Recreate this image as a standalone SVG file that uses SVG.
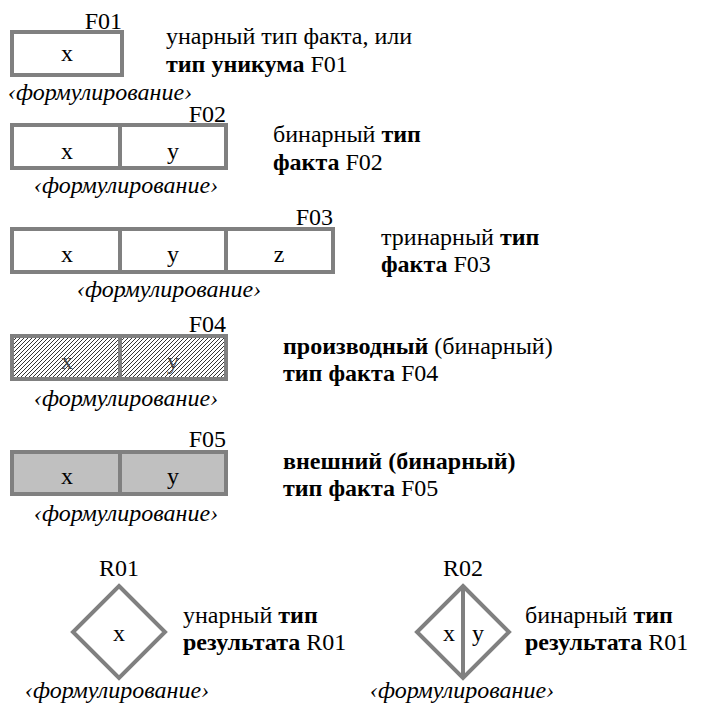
<svg xmlns="http://www.w3.org/2000/svg" width="702" height="710" viewBox="0 0 702 710">
<rect width="702" height="710" fill="#fff"/>
<g id="F01">
<rect x="12" y="32" width="110" height="43" fill="#fff" stroke="#808080" stroke-width="4"/>
<text font-family="'Liberation Serif', serif" font-size="24" text-anchor="end" x="122" y="29">F01</text>
<text font-family="'Liberation Serif', serif" font-size="24" text-anchor="middle" x="67" y="61">x</text>
<text font-family="'Liberation Serif', serif" font-size="24" font-style="italic" text-anchor="middle" x="100" y="100">‹формулирование›</text>
<text font-family="'Liberation Serif', serif" font-size="24" x="166" y="44">унарный тип факта, или</text>
<text font-family="'Liberation Serif', serif" font-size="24" x="166" y="72"><tspan font-weight="bold">тип уникума</tspan> F01</text>
</g>
<g id="F02">
<rect x="12" y="125" width="214" height="43" fill="#fff" stroke="#808080" stroke-width="4"/>
<line x1="120" y1="125" x2="120" y2="168" stroke="#808080" stroke-width="4"/>
<text font-family="'Liberation Serif', serif" font-size="24" text-anchor="end" x="226" y="122">F02</text>
<text font-family="'Liberation Serif', serif" font-size="24" text-anchor="middle" x="67" y="159">x</text>
<text font-family="'Liberation Serif', serif" font-size="24" text-anchor="middle" x="173" y="159">y</text>
<text font-family="'Liberation Serif', serif" font-size="24" font-style="italic" text-anchor="middle" x="126" y="193">‹формулирование›</text>
<text font-family="'Liberation Serif', serif" font-size="24" x="273" y="142">бинарный <tspan font-weight="bold">тип</tspan></text>
<text font-family="'Liberation Serif', serif" font-size="24" x="273" y="170"><tspan font-weight="bold">факта</tspan> F02</text>
</g>
<g id="F03">
<rect x="12" y="229" width="321" height="43" fill="#fff" stroke="#808080" stroke-width="4"/>
<line x1="120" y1="229" x2="120" y2="272" stroke="#808080" stroke-width="4"/>
<line x1="226" y1="229" x2="226" y2="272" stroke="#808080" stroke-width="4"/>
<text font-family="'Liberation Serif', serif" font-size="24" text-anchor="end" x="333" y="225">F03</text>
<text font-family="'Liberation Serif', serif" font-size="24" text-anchor="middle" x="67" y="262">x</text>
<text font-family="'Liberation Serif', serif" font-size="24" text-anchor="middle" x="173" y="262">y</text>
<text font-family="'Liberation Serif', serif" font-size="24" text-anchor="middle" x="279" y="262">z</text>
<text font-family="'Liberation Serif', serif" font-size="24" font-style="italic" text-anchor="middle" x="169" y="297">‹формулирование›</text>
<text font-family="'Liberation Serif', serif" font-size="24" x="381" y="245">тринарный <tspan font-weight="bold">тип</tspan></text>
<text font-family="'Liberation Serif', serif" font-size="24" x="381" y="272"><tspan font-weight="bold">факта</tspan> F03</text>
</g>
<g id="F04">
<rect x="12" y="336" width="214" height="43" fill="#fff"/>
<path fill="none" stroke="#000" stroke-width="0.8" d="M12 338L14 336M12 342L18 336M12 346L22 336M12 350L26 336M12 354L30 336M12 358L34 336M12 362L38 336M12 366L42 336M12 370L46 336M12 374L50 336M12 378L54 336M15 379L58 336M19 379L62 336M23 379L66 336M27 379L70 336M31 379L74 336M35 379L78 336M39 379L82 336M43 379L86 336M47 379L90 336M51 379L94 336M55 379L98 336M59 379L102 336M63 379L106 336M67 379L110 336M71 379L114 336M75 379L118 336M79 379L122 336M83 379L126 336M87 379L130 336M91 379L134 336M95 379L138 336M99 379L142 336M103 379L146 336M107 379L150 336M111 379L154 336M115 379L158 336M119 379L162 336M123 379L166 336M127 379L170 336M131 379L174 336M135 379L178 336M139 379L182 336M143 379L186 336M147 379L190 336M151 379L194 336M155 379L198 336M159 379L202 336M163 379L206 336M167 379L210 336M171 379L214 336M175 379L218 336M179 379L222 336M183 379L226 336M187 379L226 340M191 379L226 344M195 379L226 348M199 379L226 352M203 379L226 356M207 379L226 360M211 379L226 364M215 379L226 368M219 379L226 372M223 379L226 376"/>
<rect x="12" y="336" width="214" height="43" fill="none" stroke="#808080" stroke-width="4"/>
<line x1="120" y1="336" x2="120" y2="379" stroke="#808080" stroke-width="4"/>
<text font-family="'Liberation Serif', serif" font-size="24" text-anchor="end" x="226" y="332">F04</text>
<text font-family="'Liberation Serif', serif" font-size="24" text-anchor="middle" x="67" y="369" fill="#444">x</text>
<text font-family="'Liberation Serif', serif" font-size="24" text-anchor="middle" x="173" y="369" fill="#444">y</text>
<text font-family="'Liberation Serif', serif" font-size="24" font-style="italic" text-anchor="middle" x="126" y="406">‹формулирование›</text>
<text font-family="'Liberation Serif', serif" font-size="24" x="283" y="354"><tspan font-weight="bold">производный</tspan> (бинарный)</text>
<text font-family="'Liberation Serif', serif" font-size="24" x="283" y="381"><tspan font-weight="bold">тип факта</tspan> F04</text>
</g>
<g id="F05">
<rect x="12" y="452" width="214" height="42" fill="#c0c0c0" stroke="#808080" stroke-width="4"/>
<line x1="120" y1="452" x2="120" y2="494" stroke="#808080" stroke-width="4"/>
<text font-family="'Liberation Serif', serif" font-size="24" text-anchor="end" x="226" y="447">F05</text>
<text font-family="'Liberation Serif', serif" font-size="24" text-anchor="middle" x="67" y="484">x</text>
<text font-family="'Liberation Serif', serif" font-size="24" text-anchor="middle" x="173" y="484">y</text>
<text font-family="'Liberation Serif', serif" font-size="24" font-style="italic" text-anchor="middle" x="126" y="521">‹формулирование›</text>
<text font-family="'Liberation Serif', serif" font-size="24" font-weight="bold" x="283" y="469">внешний (бинарный)</text>
<text font-family="'Liberation Serif', serif" font-size="24" x="283" y="496"><tspan font-weight="bold">тип факта</tspan> F05</text>
</g>
<g id="R01">
<polygon points="119,586 165,632 119,678 73,632" fill="#fff" stroke="#808080" stroke-width="4"/>
<text font-family="'Liberation Serif', serif" font-size="24" text-anchor="middle" x="119" y="576">R01</text>
<text font-family="'Liberation Serif', serif" font-size="24" text-anchor="middle" x="119" y="641">x</text>
<text font-family="'Liberation Serif', serif" font-size="24" font-style="italic" text-anchor="middle" x="117" y="698">‹формулирование›</text>
<text font-family="'Liberation Serif', serif" font-size="24" x="183" y="623">унарный <tspan font-weight="bold">тип</tspan></text>
<text font-family="'Liberation Serif', serif" font-size="24" x="183" y="650"><tspan font-weight="bold">результата</tspan> R01</text>
</g>
<g id="R02">
<polygon points="463,586 509,632 463,678 417,632" fill="#fff" stroke="#808080" stroke-width="4"/>
<line x1="463" y1="586" x2="463" y2="678" stroke="#808080" stroke-width="4"/>
<text font-family="'Liberation Serif', serif" font-size="24" text-anchor="middle" x="463" y="576">R02</text>
<text font-family="'Liberation Serif', serif" font-size="24" text-anchor="middle" x="449" y="641">x</text>
<text font-family="'Liberation Serif', serif" font-size="24" text-anchor="middle" x="478" y="641">y</text>
<text font-family="'Liberation Serif', serif" font-size="24" font-style="italic" text-anchor="middle" x="462" y="698">‹формулирование›</text>
<text font-family="'Liberation Serif', serif" font-size="24" x="525" y="623">бинарный <tspan font-weight="bold">тип</tspan></text>
<text font-family="'Liberation Serif', serif" font-size="24" x="525" y="650"><tspan font-weight="bold">результата</tspan> R01</text>
</g>
</svg>
